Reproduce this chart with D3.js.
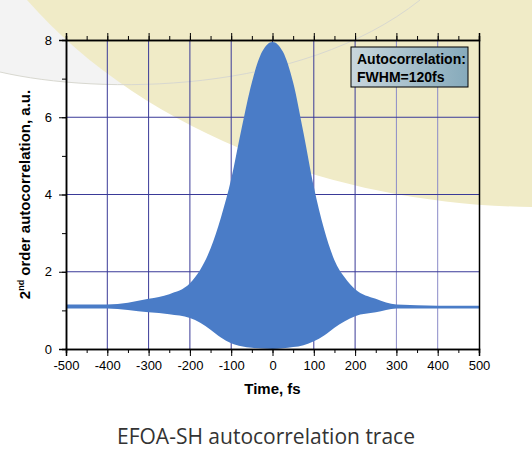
<!DOCTYPE html>
<html>
<head>
<meta charset="utf-8">
<script src="https://cdn.jsdelivr.net/npm/d3@7"></script>
<style>
body { margin: 0; background: #fff; }
text { font-family: "Liberation Sans", Arial, sans-serif; }
</style>
</head>
<body>
<script>
// envelope of the interferometric trace
var timeFs = [-500, -400, -300, -250, -200, -175, -150, -125, -100, -75, -50, -25, 0, 25, 50, 75, 100, 125, 150, 175, 200, 250, 300, 400, 500];
var upperEnv = [1.15, 1.15, 1.3, 1.42, 1.7, 2.05, 2.6, 3.4, 4.4, 5.7, 6.9, 7.7, 7.95, 7.7, 6.9, 5.6, 4.2, 3.1, 2.3, 1.85, 1.55, 1.3, 1.15, 1.12, 1.12];
var lowerEnv = [1.05, 1.05, 0.95, 0.9, 0.8, 0.68, 0.5, 0.3, 0.15, 0.07, 0.03, 0.01, 0.0, 0.02, 0.05, 0.1, 0.2, 0.35, 0.55, 0.72, 0.85, 0.95, 1.05, 1.05, 1.05];
var xTicks = [-500, -400, -300, -200, -100, 0, 100, 200, 300, 400, 500];
var yTicks = [0, 2, 4, 6, 8];

var svgWidth = 532, svgHeight = 460;
var margin = {top: 40, right: 53, bottom: 111, left: 66};
var width = svgWidth - margin.left - margin.right;
var height = svgHeight - margin.top - margin.bottom;

var svg = d3.select("body").append("svg")
  .attr("width", svgWidth)
  .attr("height", svgHeight);

// background decoration
svg.append("path")
  .attr("d", "M0,0 L420,0 C300,95 100,95 0,72 Z")
  .attr("fill", "#f3f3f3");
svg.append("path")
  .attr("d", "M27,0 C150,140 350,205 532,207 L532,0 Z")
  .attr("fill", "#f0ebc7");
svg.append("path")
  .attr("d", "M420,0 C300,95 100,95 0,72")
  .attr("fill", "none").attr("stroke", "#d8d8d0").attr("stroke-width", 1);

var chartGroup = svg.append("g")
  .attr("transform", `translate(${margin.left}, ${margin.top})`);

var x = d3.scaleLinear().domain([-500, 500]).range([0, width]);
var y = d3.scaleLinear().domain([0, 8]).range([height, 0]);

// grid
chartGroup.selectAll(".vgrid").data(xTicks.slice(1, -1)).enter().append("line")
  .attr("x1", d => x(d)).attr("x2", d => x(d))
  .attr("y1", 0).attr("y2", height)
  .attr("stroke", d => d >= 300 ? "#8a8ac8" : "#3a3a98").attr("stroke-width", 1);
chartGroup.selectAll(".hgrid").data(yTicks.slice(1, -1)).enter().append("line")
  .attr("x1", 0).attr("x2", width)
  .attr("y1", d => y(d)).attr("y2", d => y(d))
  .attr("stroke", "#3a3a98").attr("stroke-width", 1);

// trace
var area = d3.area()
  .x((d, i) => x(timeFs[i]))
  .y0((d, i) => y(lowerEnv[i]))
  .y1(d => y(d))
  .curve(d3.curveMonotoneX);
chartGroup.append("path")
  .datum(upperEnv)
  .attr("d", area)
  .attr("fill", "#4a7cc7");

// axes
var minorX = d3.range(-500, 501, 50);
chartGroup.append("g")
  .attr("transform", `translate(0, ${height})`)
  .call(d3.axisBottom(x).tickValues(minorX).tickSize(4).tickFormat(""));
chartGroup.append("g")
  .attr("transform", `translate(0, ${height})`)
  .call(d3.axisBottom(x).tickValues(xTicks).tickSize(7).tickPadding(5).tickFormat(d => String(d)))
  .call(g => g.selectAll("text").attr("font-size", 13).attr("fill", "#000"));
chartGroup.append("g")
  .call(d3.axisTop(x).tickValues(minorX).tickSize(4).tickFormat(""));
chartGroup.append("g")
  .call(d3.axisTop(x).tickValues(xTicks).tickSize(7).tickFormat(""));
chartGroup.append("g")
  .call(d3.axisLeft(y).tickValues(d3.range(0, 9, 1)).tickSize(4).tickFormat(""));
chartGroup.append("g")
  .call(d3.axisLeft(y).tickValues(yTicks).tickSize(7).tickPadding(7).tickFormat(d => String(d)))
  .call(g => g.selectAll("text").attr("font-size", 13).attr("fill", "#000"));
chartGroup.append("g")
  .attr("transform", `translate(${width}, 0)`)
  .call(d3.axisRight(y).tickValues(yTicks).tickSize(0).tickFormat(""));
chartGroup.selectAll(".domain").attr("stroke", "#000").attr("stroke-width", 1.5);

// legend box
var defs = svg.append("defs");
var grad = defs.append("linearGradient").attr("id", "lg");
grad.append("stop").attr("offset", "0%").attr("stop-color", "#c9d6dc");
grad.append("stop").attr("offset", "100%").attr("stop-color", "#86aabb");
svg.append("rect")
  .attr("x", 351).attr("y", 47).attr("width", 117).attr("height", 40)
  .attr("fill", "url(#lg)").attr("stroke", "#000").attr("stroke-width", 1);
svg.append("text").attr("x", 357).attr("y", 64)
  .attr("font-size", 14).attr("font-weight", "bold").text("Autocorrelation:");
svg.append("text").attr("x", 357).attr("y", 82)
  .attr("font-size", 14).attr("font-weight", "bold").text("FWHM=120fs");

// axis labels
svg.append("text")
  .attr("transform", `translate(30, ${margin.top + height / 2}) rotate(-90)`)
  .attr("text-anchor", "middle")
  .attr("font-size", 15).attr("font-weight", "bold")
  .html('2<tspan font-size="9" dy="-6">nd</tspan><tspan dy="6"> order autocorrelation, a.u.</tspan>');
svg.append("text")
  .attr("x", margin.left + width / 2).attr("y", 394)
  .attr("text-anchor", "middle")
  .attr("font-size", 15).attr("font-weight", "bold")
  .text("Time, fs");

svg.append("text")
  .attr("x", 266).attr("y", 444)
  .attr("text-anchor", "middle")
  .attr("font-size", 21).attr("fill", "#333")
  .style("font-family", "'Open Sans', sans-serif")
  .text("EFOA-SH autocorrelation trace");
</script>
</body>
</html>
